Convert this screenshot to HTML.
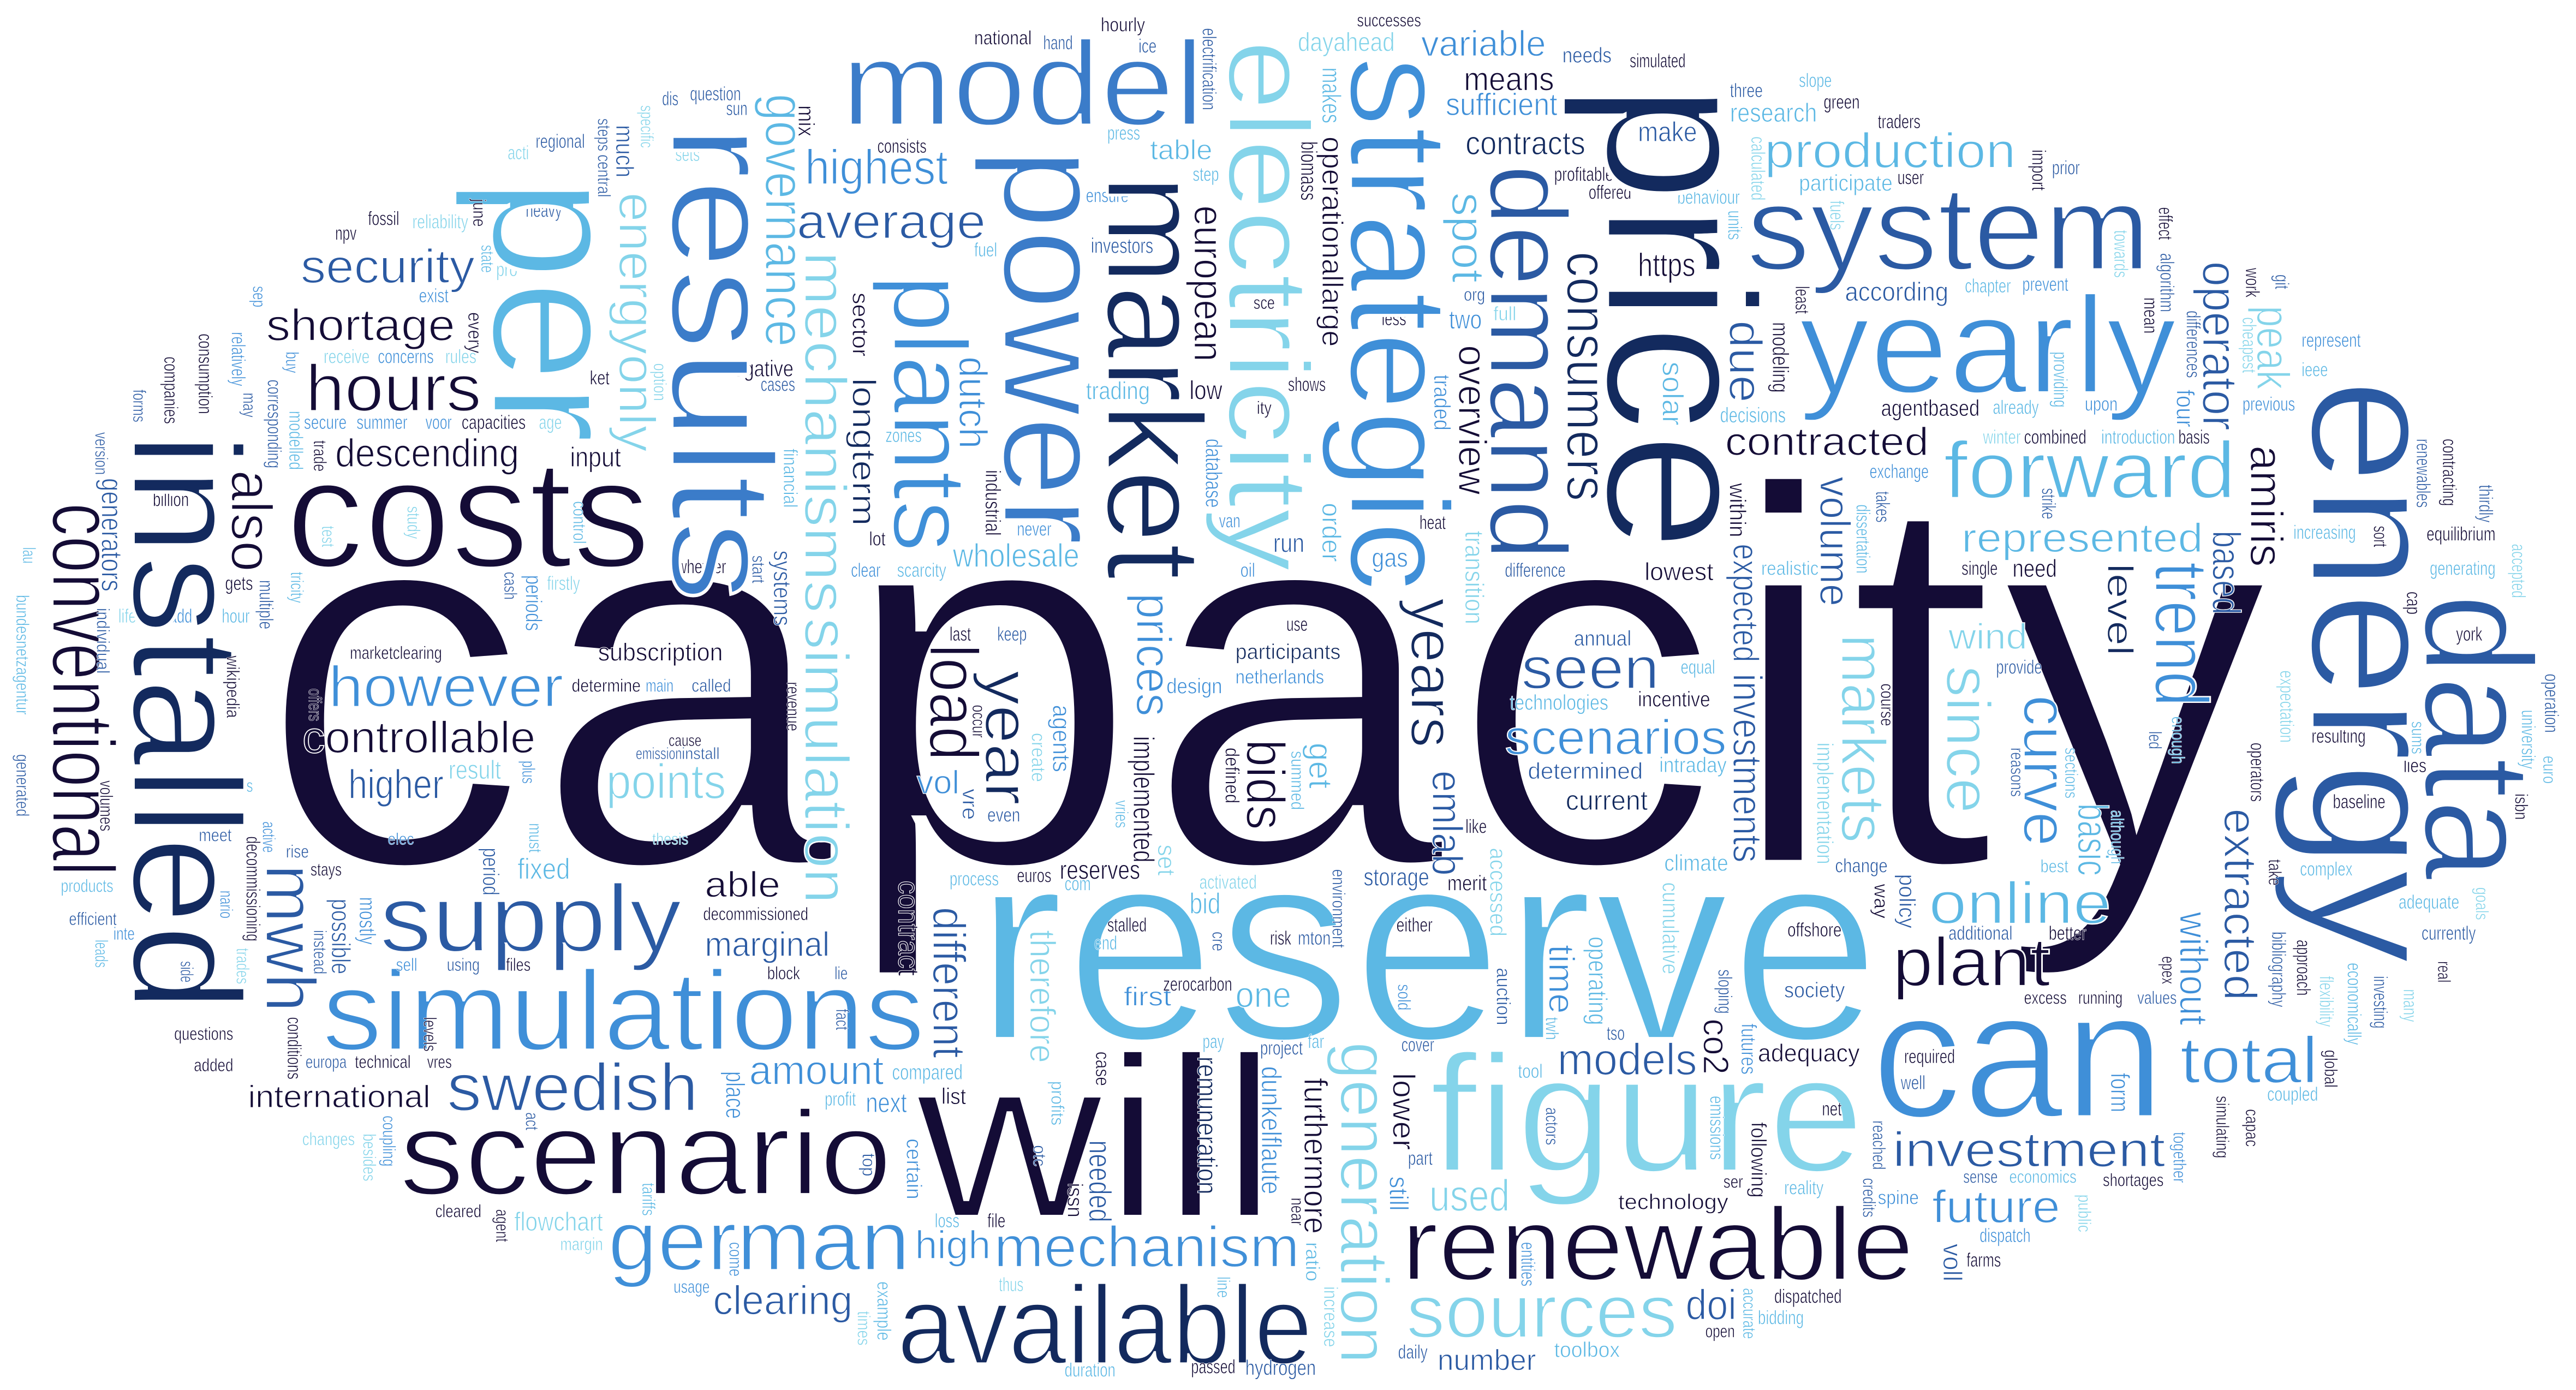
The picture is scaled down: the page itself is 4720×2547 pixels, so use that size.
<!DOCTYPE html>
<html><head><meta charset="utf-8">
<style>
html,body{margin:0;padding:0;background:#fff;}
svg{display:block;}
text{font-family:"Liberation Sans",sans-serif;stroke:#fff;stroke-width:0.022em;}
</style></head>
<body>
<svg id="cloud" width="4720" height="2547" viewBox="0 0 1568 846" xmlns="http://www.w3.org/2000/svg">
<rect width="1568" height="846" fill="#fff"/>
<g id="gh"></g>
<g id="gv"></g>
</svg>
<script>
const colors = ["#140c36","#132a5e","#2b5aa3","#3f8fd8","#5cb8e4","#84d4ea","#3b7cc9"];
// [text, x, baseline, length, fontSize, colorIndex]
const horizontalWords = [
["capacity",156,527,1227,330,0],["reserve",593,633,552,168,4],["will",557,741,221,141,0],["can",1139,680,179,111,3],
["figure",870,713,265,102,5],["scenario",243,727,300,73,0],["available",546,830,253,68,1],["renewable",853,779,312,63,0],
["simulations",196,639,367,69,3],["german",370,773,184,52,3],["sources",856,814,165,46,5],["costs",174,345,222,94,0],
["supply",231,579,184,58,2],["swedish",272,676,153,41,2],["mechanism",605,771,186,35,3],["system",1063,164,246,73,2],
["yearly",1095,239,230,84,3],["forward",1183,303,178,49,4],["model",512,76,221,73,6],["hours",186,250,107,40,0],
["security",183,172,106,29,2],["shortage",162,207,115,27,0],["average",485,145,115,30,2],["highest",490,112,87,30,3],
["production",1074,102,153,30,4],["plant",1152,600,96,42,0],["online",1174,562,111,36,4],["total",1327,659,84,40,3],
["investment",1152,710,166,30,2],["future",1176,744,78,28,3],["represented",1194,336,147,25,4],["contracted",1050,277,124,24,0],
["seen",926,419,84,36,2],["scenarios",916,459,135,30,3],["determined",930,474,70,14,2],["current",953,493,50,17,1],
["technologies",919,432,60,13,4],["points",369,486,73,30,5],["however",200,430,143,35,3],["controllable",184,458,142,27,0],
["higher",212,486,58,25,2],["descending",204,284,112,24,0],["subscription",364,402,76,15,0],["clearing",434,800,85,25,2],
["international",151,674,111,19,0],["high",557,766,46,24,3],["doi",1026,803,31,26,2],["https",997,168,35,20,0],
["models",948,654,85,27,2],["used",870,737,49,27,5],["amount",456,660,82,25,3],["marginal",429,582,76,21,2],
["wholesale",580,345,77,20,4],["contracts",892,94,73,20,1],["variable",865,34,76,22,3],["sufficient",880,70,68,19,3],
["means",891,55,55,20,0],["number",875,834,60,18,2],["technology",985,736,67,13,0],["wind",1186,395,48,22,5],
["make",997,86,36,17,2],["research",1053,74,53,16,4],["participate",1095,116,57,14,4],["according",1123,183,63,16,2],
["agentbased",1145,253,60,14,0],["adequacy",1070,646,62,15,0],["flowchart",313,749,54,16,5],["lowest",1001,353,42,15,0],
["able",429,546,46,22,0],["fixed",315,535,32,18,4],["participants",752,401,64,13,1],["netherlands",752,416,54,12,3],
["design",710,422,34,13,3],["one",752,613,34,22,4],["first",684,612,29,16,3],["bid",724,556,19,18,4],
["reserves",645,535,49,16,0],["storage",830,539,40,15,2],["gas",835,345,22,16,3],["run",775,336,19,16,2],
["low",724,243,20,16,0],["trading",661,243,39,15,4],["table",700,97,38,17,4],["dayahead",790,31,59,16,5],
["annual",958,393,35,13,2],["vol",558,483,26,20,3],["negative",440,229,43,14,0],["input",347,284,31,17,0],
["capacities",281,261,39,12,0],["marketclearing",213,401,56,11,0],["questions",106,633,36,11,0],["added",118,652,24,11,0],
["cleared",265,741,28,11,0],["margin",341,761,26,11,5],["usage",410,787,22,11,3],["europa",186,650,25,11,2],
["technical",216,650,34,11,0],["vres",260,650,15,11,0],["changes",184,697,32,11,5],["products",37,543,32,11,4],
["efficient",42,563,29,11,2],["decommissioned",428,560,64,11,0],["block",467,596,20,11,0],["determine",348,421,42,11,0],
["main",393,421,17,11,3],["called",421,421,24,11,2],["cause",407,454,20,10,0],["emission",387,462,28,10,2],["install",415,462,23,10,2],
["result",273,474,32,16,5],["elec",236,514,16,10,3],["thesis",397,514,22,10,5],["meet",121,512,20,11,2],["ensures",97,482,29,11,4],
["areas",134,482,20,11,4],["stays",189,533,19,11,0],["rise",174,522,14,11,2],["sell",241,591,13,11,3],["using",272,591,20,11,2],
["files",308,591,15,11,0],["inte",69,572,13,11,3],["offshore",1088,570,33,12,0],["society",1086,607,37,13,2],["required",1159,647,31,12,0],
["well",1157,663,15,12,2],["net",1109,679,12,12,0],["additional",1186,572,39,12,2],["better",1247,572,23,12,0],["excess",1232,611,26,11,0],
["running",1265,611,27,11,0],["values",1301,611,24,11,2],["complex",1400,533,32,12,4],["adequate",1460,553,37,12,4],["currently",1474,572,33,12,2],
["resulting",1407,452,33,12,0],["lies",1463,470,14,12,0],["baseline",1420,492,32,12,0],["provide",1215,410,28,12,2],["equal",1023,410,21,12,4],
["incentive",997,430,44,13,0],["intraday",1010,470,41,13,4],["climate",1013,530,39,14,4],["change",1117,531,32,12,2],["best",1242,531,17,11,4],
["coupled",1380,670,31,12,4],["sense",1195,720,21,11,2],["economics",1223,720,41,11,4],["shortages",1280,722,37,11,0],["dispatch",1205,756,31,12,3],
["farms",1197,771,21,12,0],["dispatched",1080,793,41,12,0],["bidding",1070,806,28,12,4],["open",1038,814,18,11,0],["reality",1086,727,24,12,4],
["spine",1143,733,25,12,3],["ser",1049,723,12,11,0],["simulated",992,41,34,12,0],["three",1053,59,20,12,2],["slope",1095,53,20,12,4],
["green",1110,66,22,12,0],["traders",1143,78,26,12,0],["prior",1249,106,17,12,2],["user",1155,112,16,12,0],["behaviour",1021,124,38,12,4],
["chapter",1196,178,28,12,4],["prevent",1231,177,28,12,3],["already",1213,252,28,12,4],["upon",1269,250,20,12,3],["decisions",1047,257,40,13,4],
["winter",1207,270,23,12,5],["combined",1232,270,38,12,0],["introduction",1279,270,45,12,4],["basis",1326,270,19,12,0],["exchange",1138,291,36,12,3],
["represent",1401,211,36,12,3],["ieee",1401,229,16,12,4],["previous",1365,250,32,12,3],["increasing",1396,328,38,12,4],["equilibrium",1477,329,42,12,0],
["generating",1479,350,40,12,4],["realistic",1072,350,35,12,4],["single",1194,350,22,12,0],["need",1225,351,27,15,0],["york",1495,390,16,12,0],
["successes",826,16,39,11,0],["hourly",670,19,27,12,0],["national",593,27,35,12,0],["hand",635,30,18,12,2],["ice",693,32,11,12,2],
["needs",951,38,30,13,2],["press",674,85,20,12,4],["consists",534,93,30,12,0],["step",726,110,16,12,4],["ensure",661,123,26,12,3],
["investors",664,154,38,13,2],["fuel",593,156,14,12,4],["profitable",946,110,36,12,0],["offered",967,121,26,12,0],["less",841,198,15,12,0],
["two",882,200,20,16,3],["full",909,195,14,12,5],["org",891,183,13,11,2],["sce",763,188,13,11,0],["shows",784,238,23,12,0],["ity",765,252,9,11,0],
["zones",539,269,22,12,4],["van",742,321,13,12,3],["never",619,326,21,12,3],["lot",529,332,10,12,0],["clear",518,351,18,12,3],["scarcity",546,351,30,12,4],
["oil",755,351,9,12,3],["heat",864,322,16,12,0],["difference",916,351,37,12,2],["last",578,390,13,12,0],["keep",607,390,18,12,2],["use",783,384,13,12,0],
["question",420,61,31,12,2],["dis",403,64,10,12,2],["sun",442,70,13,12,2],["regional",326,90,30,12,2],["acti",309,97,13,12,5],["sets",411,98,15,12,5],
["fossil",224,137,19,12,0],["reliability",251,139,34,12,5],["npv",204,146,13,12,0],["heavy",320,132,22,12,2],["pro",302,168,13,12,5],["exist",255,184,18,12,3],
["receive",197,221,28,12,5],["concerns",230,221,34,12,3],["rules",271,221,19,12,5],["ket",359,234,12,12,0],["cases",463,238,21,12,2],["secure",185,261,26,12,3],
["summer",217,261,31,12,3],["voor",259,261,16,12,3],["age",328,261,14,12,5],["billion",93,308,22,12,0],["whether",412,349,30,12,0],["gets",137,359,17,12,0],
["firstly",333,359,20,12,5],["life",72,379,11,12,5],["add",103,379,14,12,3],["hour",135,379,17,12,4],["like",892,507,13,12,0],["merit",881,542,24,13,0],
["euros",619,537,21,12,0],["process",578,539,30,12,4],["com",648,542,16,12,4],["activated",730,541,35,12,5],["even",601,500,20,12,2],["stalled",674,567,24,12,0],
["end",666,578,14,12,4],["risk",773,575,13,12,0],["mton",790,575,20,12,2],["either",850,567,22,12,0],["zerocarbon",708,603,42,12,0],["pay",732,638,13,12,4],
["project",767,642,26,12,2],["far",796,638,10,12,4],["cover",853,640,20,12,2],["compared",543,657,43,13,4],["profit",502,673,19,12,4],["next",527,677,25,17,3],
["list",573,672,15,14,0],["loss",569,747,15,12,4],["file",601,747,11,12,0],["thus",608,786,15,12,5],["duration",648,838,31,12,4],["passed",725,836,27,12,0],
["hydrogen",758,837,43,13,2],["daily",851,827,18,12,2],["toolbox",946,826,40,13,4],["part",857,709,15,12,2],["tool",924,656,15,12,4],["tso",978,633,11,12,2],
["lie",508,596,8,11,2],["gwh",162,650,0.01,1,0]
];
// [text, baselineX, topY, length, fontSize, colorIndex]
const verticalWords = [
["installed",81,263,353,94,1],["conventional",32,306,227,54,0],["per",300,108,162,113,4],["results",409,76,290,88,6],
["power",611,90,242,88,6],["plants",544,167,169,64,3],["market",674,106,247,83,1],["electricity",748,24,324,70,5],
["strategic",822,34,326,86,3],["demand",907,100,241,67,2],["consumers",954,153,152,35,1],["overview",888,210,91,24,0],
["european",727,125,95,25,0],["operationallarge",805,83,128,18,0],["spot",884,117,55,28,4],["price",978,50,286,130,1],
["energy",1407,230,357,112,2],["data",1476,361,175,94,2],["governance",466,57,154,34,4],["energyonly",377,117,158,31,5],
["mechanisms",490,153,220,36,5],["simulation",490,376,174,38,5],["mwh",162,526,90,43,2],["also",141,286,62,35,0],
["generators",62,291,69,18,2],["generation",816,634,196,42,5],["year",600,408,82,38,1],["load",566,392,71,42,0],
["bids",759,450,55,33,0],["implemented",690,448,77,18,0],["prices",692,361,75,30,3],["different",568,552,92,28,2],
["contract",547,536,58,18,0],["therefore",627,566,81,22,5],["remuneration",729,643,84,17,1],["needed",663,694,50,19,2],
["dunkelflaute",768,649,78,17,3],["furthermore",794,656,95,20,0],["lower",848,653,47,19,0],["still",846,716,21,16,3],
["years",859,364,91,37,1],["emlab",872,469,64,26,2],["get",797,452,28,20,4],["time",943,575,42,22,3],["operating",967,570,54,16,4],
["accessed",907,516,54,14,5],["investments",1055,410,115,25,2],["expected",1055,331,72,22,2],["within",1053,294,33,14,0],
["markets",1121,386,127,38,5],["volume",1108,290,79,26,2],["due",1053,195,50,28,2],["solar",1012,220,39,18,4],["modeling",1079,196,43,14,0],
["since",1185,405,90,38,5],["curve",1232,423,92,38,3],["basic",1265,489,44,26,4],["without",1327,555,69,24,3],["extracted",1354,492,117,28,2],
["amiris",1370,271,74,28,0],["based",1347,323,51,24,2],["trend",1312,342,88,46,3],["level",1283,343,56,22,1],["operator",1341,159,103,30,2],
["peak",1374,186,51,28,5],["co2",1037,620,34,22,0],["place",442,652,29,16,3],["possible",202,547,46,16,2],["mostly",219,546,29,14,3],
["decommissioning",150,509,64,12,0],["longterm",519,230,90,20,1],["sector",519,178,39,14,0],["dutch",584,217,56,24,3],["order",805,306,36,16,4],
["transition",892,323,57,16,5],["traded",873,228,34,14,3],["makes",805,41,34,16,4],["biomass",792,86,36,14,0],["database",734,267,42,14,3],
["electrification",732,17,50,12,2],["industrial",600,286,40,13,0],["calculated",1066,83,39,12,5],["fuels",1114,122,18,12,5],["units",1052,128,18,12,4],
["towards",1287,140,29,12,5],["effect",1314,126,20,12,0],["algorithm",1315,154,36,12,2],["mean",1305,181,22,12,0],["differences",1331,189,41,12,2],
["cheapest",1365,193,34,12,5],["work",1367,163,18,12,0],["git",1385,167,9,12,2],["four",1325,237,23,15,3],["providing",1250,214,34,12,4],
["import",1237,91,25,12,0],["least",1093,174,17,12,0],["strike",1243,297,19,12,2],["takes",1142,299,19,12,2],["dissertation",1130,307,42,12,4],
["renewables",1471,267,42,12,2],["contracting",1487,267,41,12,0],["thirdly",1509,295,23,12,2],["sort",1445,320,13,12,0],["accepted",1529,331,33,12,5],
["cap",1465,360,14,12,0],["cumulative",1012,537,56,14,5],["sloping",1046,590,27,12,2],["futures",1060,623,31,13,3],["emissions",1041,667,39,12,4],
["following",1066,683,46,13,0],["reached",1140,682,30,11,2],["credits",1134,717,24,11,2],["voll",1183,757,23,16,2],["accurate",1061,784,31,11,4],
["together",1323,689,31,11,3],["public",1265,727,23,11,5],["form",1285,653,24,16,3],["simulating",1349,667,38,11,0],["capac",1367,675,23,11,0],
["global",1415,639,23,11,0],["policy",1156,532,33,14,2],["way",1141,538,21,12,0],["implementation",1106,452,74,14,5],["course",1145,416,26,11,0],
["reasons",1224,455,30,11,2],["sections",1257,455,31,11,4],["although",1285,493,33,11,4],["epex",1316,582,17,11,0],["bibliography",1383,567,46,12,2],
["approach",1398,572,34,12,0],["flexibility",1412,594,31,12,5],["economically",1429,586,50,12,4],["investing",1445,594,32,12,2],["many",1463,602,20,12,5],
["real",1484,585,13,11,0],["take",1381,523,16,11,0],["operators",1370,452,36,12,0],["expectation",1388,408,44,12,5],["led",1308,445,11,11,2],
["enough",1322,436,29,11,4],["goals",1507,540,20,11,5],["isbn",1531,483,16,11,0],["university",1535,432,36,12,4],["euro",1548,460,17,11,4],
["operation",1549,410,36,12,2],["sums",1468,439,20,11,4],["specific",390,64,26,11,5],["central",364,94,26,11,2],["steps",364,72,20,11,2],
["much",375,76,32,15,2],["june",288,121,17,11,0],["state",293,149,17,11,4],["mix",486,64,19,14,0],["option",398,221,23,11,5],["financial",477,273,36,12,4],
["control",349,305,26,11,4],["study",248,308,20,11,5],["test",196,320,13,11,5],["cash",307,348,17,11,2],["periods",320,350,34,14,3],["tricity",177,348,19,11,4],
["multiple",158,353,30,12,2],["start",458,338,17,11,2],["systems",471,335,46,15,2],["sep",154,174,13,11,3],["every",285,190,25,12,0],["buy",174,214,13,11,3],
["relatively",141,202,33,12,3],["may",148,239,15,11,2],["corresponding",163,231,54,12,2],["modelled",176,250,36,12,4],["trade",191,268,19,11,0],
["consumption",121,203,49,12,0],["companies",100,217,41,12,0],["forms",81,237,20,11,2],["version",58,263,26,11,2],["lau",14,333,10,11,4],
["bundesnetzagentur",10,362,73,11,4],["individual",59,370,40,11,2],["generated",10,459,38,11,2],["volumes",61,475,31,11,0],["leads",58,572,17,11,4],
["side",110,585,13,11,2],["nario",134,542,17,11,3],["trades",144,577,22,11,5],["active",160,500,19,11,3],["instead",191,566,27,11,2],["period",294,516,29,14,2],
["plus",318,463,14,11,3],["must",322,501,18,11,4],["conditions",175,619,38,12,0],["levels",258,619,21,11,0],["coupling",233,679,31,11,3],["besides",221,690,29,11,5],
["agent",302,736,20,11,0],["act",320,677,11,11,2],["tariffs",391,720,20,11,4],["come",444,756,21,11,3],["revenue",479,415,30,11,0],["offers",188,419,20,11,0],
["wikipedia",138,399,38,11,0],["occur",592,429,20,11,0],["agents",641,429,41,15,3],["create",628,446,30,12,5],["vre",586,480,19,13,2],["vries",679,487,17,11,4],
["summed",786,457,36,11,4],["defined",746,455,34,12,0],["set",705,514,19,15,5],["cre",738,567,12,11,2],["profits",640,658,27,11,4],["top",525,702,14,11,2],
["certain",552,693,37,13,3],["otc",629,697,13,11,2],["issn",650,720,21,13,0],["case",667,640,21,12,0],["ratio",795,756,24,12,4],["increase",806,783,37,12,5],
["line",741,777,13,11,4],["example",534,780,36,12,4],["times",522,798,21,11,5],["near",786,729,17,11,0],["entities",926,756,27,12,3],["actors",941,674,23,11,2],
["sold",851,599,16,11,3],["auction",911,589,35,12,2],["fact",509,614,13,11,2],["environment",811,529,48,11,2],["twh",941,619,14,11,4]
];
const svg = document.getElementById('cloud');
const gh = document.getElementById('gh');
const gv = document.getElementById('gv');
const NS = 'http://www.w3.org/2000/svg';
for (const w of horizontalWords) {
  if (!w[0] || w[4] < 2) continue;
  const el = document.createElementNS(NS, 'text');
  
  
  el.setAttribute('x', w[1]);
  el.setAttribute('y', w[2]);
  el.setAttribute('font-size', w[4]);
  el.setAttribute('textLength', w[3]);
  el.setAttribute('lengthAdjust', 'spacingAndGlyphs');
  el.setAttribute('fill', colors[w[5]]);
  el.textContent = w[0];
  gh.appendChild(el);
}
for (const w of verticalWords) {
  const el = document.createElementNS(NS, 'text');
  
  
  el.setAttribute('transform', 'translate(' + w[1] + ',' + w[2] + ') rotate(90)');
  el.setAttribute('font-size', w[4]);
  el.setAttribute('textLength', w[3]);
  el.setAttribute('lengthAdjust', 'spacingAndGlyphs');
  el.setAttribute('fill', colors[w[5]]);
  el.textContent = w[0];
  gv.appendChild(el);
}
</script>
</body></html>
